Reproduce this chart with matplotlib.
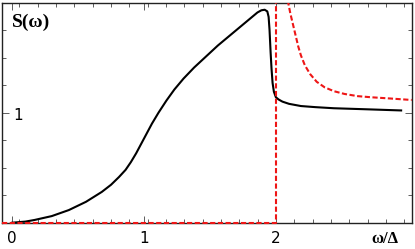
import matplotlib
matplotlib.use("Agg")
import matplotlib.pyplot as plt
from matplotlib.ticker import FixedLocator, MultipleLocator

# Black curve: S(omega).
omega = [0.00, 0.10, 0.17, 0.30, 0.43, 0.56, 0.68, 0.75, 0.81, 0.86, 0.90,
         0.94, 0.98, 1.02, 1.06, 1.11, 1.17, 1.23, 1.30, 1.38, 1.47, 1.56,
         1.65, 1.74, 1.81, 1.86, 1.89, 1.915, 1.935, 1.945, 1.952, 1.96,
         1.967, 1.975, 1.985, 2.00, 2.02, 2.05, 2.10, 2.19, 2.30, 2.44,
         2.70, 2.95]
s_omega = [0.00, 0.01, 0.025, 0.06, 0.115, 0.19, 0.28, 0.345, 0.415, 0.48, 0.55,
           0.63, 0.72, 0.81, 0.90, 1.00, 1.11, 1.21, 1.31, 1.41, 1.51, 1.61,
           1.70, 1.79, 1.86, 1.91, 1.93, 1.935, 1.92, 1.87, 1.75, 1.55,
           1.40, 1.27, 1.19, 1.14, 1.12, 1.10, 1.08, 1.06, 1.05, 1.04,
           1.03, 1.02]

# Red dashed reference: zero below the gap, then a divergent tail.
step_x = [-0.075, 2.0, 2.0]
step_y = [0.0, 0.0, 2.0]
tail_x = [2.09, 2.11, 2.13, 2.15, 2.17, 2.19, 2.22, 2.26, 2.31, 2.37, 2.44,
          2.52, 2.62, 2.72, 2.85, 3.03]
tail_y = [2.02, 1.90, 1.80, 1.70, 1.60, 1.52, 1.43, 1.35, 1.28, 1.23, 1.195,
          1.17, 1.15, 1.14, 1.13, 1.115]

x_ticks = [0, 1, 2]
x_labels = ["0", "1", "2"]

fig = plt.figure(figsize=(4.15, 2.49), dpi=100)
ax = fig.add_axes([0.0055, 0.1056, 0.9865, 0.884])

red = "#ee1616"
ax.plot(step_x, step_y, color=red, lw=1.5, dashes=(2.5, 1.2), clip_on=False, zorder=3)
ax.plot(tail_x, tail_y, color=red, lw=1.5, dashes=(2.5, 1.2), zorder=3)
ax.plot(omega, s_omega, color="black", lw=1.5, zorder=2)

ax.set_xlim(-0.075, 3.03)
ax.set_ylim(0, 2)

# Frame ticks on all sides, pointing inward.
ax.xaxis.set_major_locator(FixedLocator(x_ticks))
ax.xaxis.set_minor_locator(FixedLocator([2 + k * 0.139 for k in range(-14, 8)]))
ax.yaxis.set_major_locator(FixedLocator([1]))
ax.yaxis.set_minor_locator(MultipleLocator(0.25))
ax.tick_params(which="both", direction="in", top=True, right=True,
               color="#444444", width=0.6)
ax.tick_params(which="major", length=5)
ax.tick_params(which="minor", length=3)
ax.set_xticklabels(x_labels, fontsize=11)
ax.tick_params(axis="x", pad=6)
ax.set_yticklabels([])

for sp in ax.spines.values():
    sp.set_linewidth(1.0)
    sp.set_color("#222222")

# Labels placed like the original (inside the frame).
ax.text(0.044, 0.97, "1", fontsize=11, ha="center", va="center")
ax.text(0.0, 1.825, "S(ω)", fontsize=14, fontweight="bold",
        family="Liberation Serif", ha="left", va="center")
ax.text(2.83, -0.15, "ω/Δ", fontsize=12, fontweight="bold",
        family="Liberation Serif", ha="center", va="center", clip_on=False)

fig.savefig("out.png", dpi=100)
